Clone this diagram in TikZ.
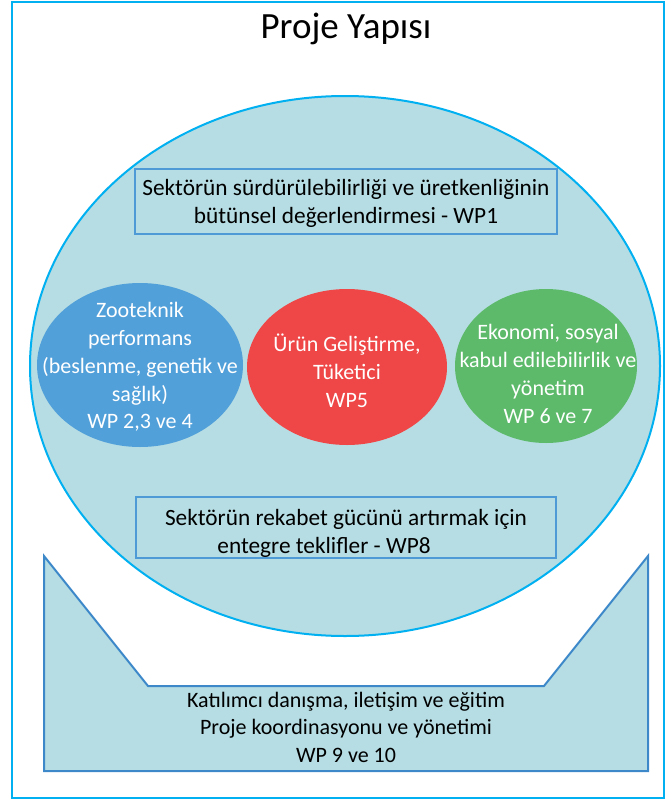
\documentclass[tikz,border=0pt]{standalone}
\usepackage{fontspec}
\setmainfont{Carlito}
\definecolor{cerceve}{HTML}{00B0F0}
\definecolor{acik}{HTML}{B6DDE3}
\definecolor{kutucizgi}{HTML}{4E9AD6}
\definecolor{altcizgi}{HTML}{3C88C8}
\definecolor{mavi}{HTML}{52A0DA}
\definecolor{kirmizi}{HTML}{EF4747}
\definecolor{yesil}{HTML}{5CBA6A}

\begin{document}
\begin{tikzpicture}[x=1pt,y=-1pt,
    kutu/.style={draw=kutucizgi,fill=acik,line width=1.5pt},
    metin/.style={align=center,inner sep=0pt,font=\fontsize{22}{27.5}\selectfont},
    kutumetin/.style={metin,font=\fontsize{23.3}{28}\selectfont},
    beyaz/.style={metin,text=white,font=\fontsize{22}{27.8}\selectfont}]
    \useasboundingbox (0,0) rectangle (665,800);

    % Cerceve
    \draw[cerceve,line width=2pt] (12,2) rectangle (664,798);
    \node[anchor=base] (baslik) at (346,39) {\fontsize{37}{44}\selectfont Proje Yapısı};

    % Buyuk elips
    \coordinate (e) at (345,366);
    \filldraw[fill=acik,draw=cerceve,line width=2pt] (e) ellipse [x radius=315, y radius=270];

    % WP1
    \draw[kutu] (135,169) rectangle (557,234);
    \node[kutumetin] (wp1) at (346,203) {Sektörün sürdürülebilirliği ve üretkenliğinin\\bütünsel değerlendirmesi - WP1};

    % Daireler
    \coordinate (1) at (140,365);
    \fill[mavi] (1) ellipse [x radius=103, y radius=82];
    \node[beyaz] (wp234) at (140,367) {Zooteknik\\performans\\(beslenme, genetik ve\\sağlık)\\WP 2,3 ve 4};

    \coordinate (2) at (347,367);
    \fill[kirmizi] (2) ellipse [x radius=100, y radius=78];
    \node[beyaz] (wp5) at (347,371) {Ürün Geliştirme,\\Tüketici\\WP5};

    \coordinate (3) at (546,366);
    \fill[yesil] (3) ellipse [x radius=91, y radius=77];
    \node[beyaz] (wp67) at (548,374) {Ekonomi, sosyal\\kabul edilebilirlik ve\\yönetim\\WP 6 ve 7};

    % WP8
    \draw[kutu] (136,497) rectangle (556,558);
    \node[kutumetin] (wp8) at (346,533) {Sektörün rekabet gücünü artırmak için\\entegre teklifler - WP8\hspace*{44pt}};

    % Alt kisim
    \filldraw[fill=acik,draw=altcizgi,line width=2pt] (44,556) -- (148,686) -- (544,686) -- (648,556)
                                                     -- (648,771) -- (44,771) -- cycle;
    \node[metin] (wp910) at (346,727) {Katılımcı danışma, iletişim ve eğitim\\Proje koordinasyonu ve yönetimi\\WP 9 ve 10};
\end{tikzpicture}
\end{document}
